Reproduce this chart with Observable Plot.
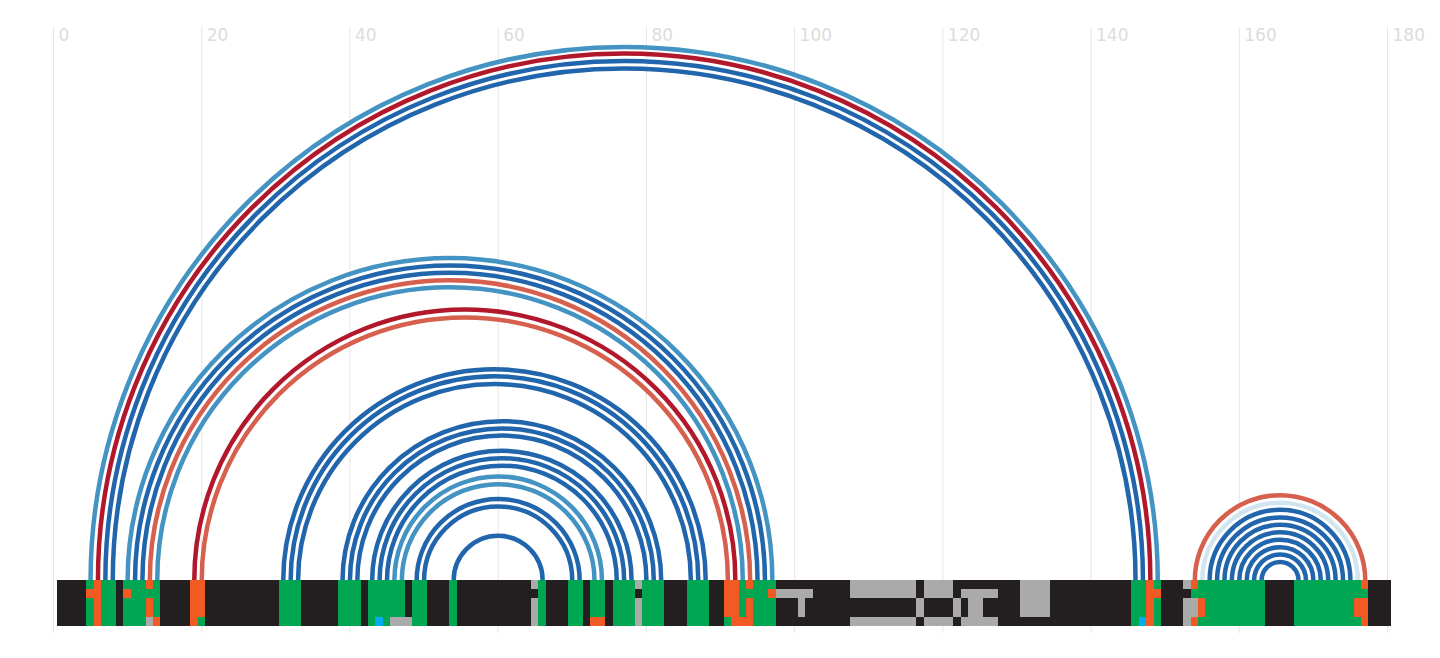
<!DOCTYPE html>
<html>
<head>
<meta charset="utf-8">
<script src="https://cdn.jsdelivr.net/npm/d3@7"></script>
<script src="https://cdn.jsdelivr.net/npm/@observablehq/plot@0.6"></script>
<style>
  html, body { margin: 0; padding: 0; background: #fff; }
  #chart svg { display: block; }
</style>
</head>
<body>
<div id="chart"></div>
<script>
// ---- data ----
const positionTicks = [0, 20, 40, 60, 80, 100, 120, 140, 160, 180];
const sequenceLength = 180;

// base pairs: left position, right position, colour class
const pairLeft  = [5, 6, 7, 8, 10, 11, 12, 13, 14, 19, 20, 31, 32, 33, 39, 40, 41, 43, 44, 45, 46, 47, 49, 50, 54,
                   154, 155, 156, 157, 158, 159, 160, 161, 162, 163];
const pairRight = [149, 148, 147, 146, 97, 96, 95, 94, 93, 92, 91, 88, 87, 86, 82, 81, 80, 78, 77, 76, 74, 73, 71, 70, 66,
                   177, 176, 175, 174, 173, 172, 171, 170, 169, 168];
const pairClass = ["lb", "r", "b", "b", "lb", "b", "b", "s", "lb", "r", "s", "b", "b", "b", "b", "b", "b", "b", "b", "b", "lb", "lb", "b", "b", "b",
                   "s", "p", "b", "b", "b", "b", "b", "b", "b", "b"];

// alignment strip: [from, to, states of the 5 sequences top→bottom]
// K unpaired, G valid pair, O compensatory, S gap, C non-canonical
const stripRuns = [
  [1, 4, "KKKKK"], [5, 5, "GOGGG"], [6, 6, "OOOOO"], [7, 8, "GGGGG"], [9, 9, "KKKKK"],
  [10, 10, "GOGGG"], [11, 12, "GGGGG"], [13, 13, "OGOOS"], [14, 14, "GGGGO"], [15, 18, "KKKKK"],
  [19, 19, "OOOOO"], [20, 20, "OOOOG"], [21, 30, "KKKKK"], [31, 33, "GGGGG"], [34, 38, "KKKKK"],
  [39, 41, "GGGGG"], [42, 42, "KKKKK"], [43, 43, "GGGGG"], [44, 44, "GGGGC"], [45, 45, "GGGGG"],
  [46, 47, "GGGGS"], [48, 48, "KKKKS"], [49, 50, "GGGGG"], [51, 53, "KKKKK"], [54, 54, "GGGGG"],
  [55, 64, "KKKKK"], [65, 65, "SKSSS"], [66, 66, "GGGGG"], [67, 69, "KKKKK"], [70, 71, "GGGGG"],
  [72, 72, "KKKKK"], [73, 74, "GGGGO"], [75, 75, "KKKKK"], [76, 78, "GGGGG"], [79, 79, "SKSSS"],
  [80, 82, "GGGGG"], [83, 85, "KKKKK"], [86, 88, "GGGGG"], [89, 90, "KKKKK"], [91, 91, "OOOOG"],
  [92, 92, "OOOOO"], [93, 93, "GGGGO"], [94, 94, "OGOOO"], [95, 96, "GGGGG"], [97, 97, "GOGGG"],
  [98, 100, "KSKKK"], [101, 101, "KSSSK"], [102, 102, "KSKKK"], [103, 107, "KKKKK"], [108, 116, "SSKKS"],
  [117, 117, "KKSSK"], [118, 121, "SSKKS"], [122, 122, "KKSSK"], [123, 123, "KSKKS"], [124, 125, "KSSSS"],
  [126, 127, "KSKKS"], [128, 130, "KKKKK"], [131, 134, "SSSSK"], [135, 145, "KKKKK"], [146, 146, "GGGGG"],
  [147, 147, "GGGGC"], [148, 148, "OOOOO"], [149, 149, "GOGGG"], [150, 152, "KKKKK"], [153, 153, "SKSSS"],
  [154, 154, "OGSSO"], [155, 155, "GGOOG"], [156, 163, "GGGGG"], [164, 167, "KKKKK"], [168, 175, "GGGGG"],
  [176, 176, "GGOOG"], [177, 177, "OGOOO"], [178, 180, "KKKKK"]
];

// ---- styles ----
const arcColors = { lb: "#4393c3", b: "#2166ac", r: "#b2182b", s: "#d6604d", p: "#d1e5f0" };
const stateColors = { K: "#231f20", G: "#00a651", O: "#f15a22", S: "#aaaaaa", C: "#00aeef" };
const rowPx = 9.2;

// ---- derived tables ----
const pairs = pairLeft.map((l, k) => ({ left: l, right: pairRight[k], cls: pairClass[k] }));

const rows = 5;
const perColumn = [];
for (const [a, b, s] of stripRuns) for (let i = a; i <= b; i++) perColumn[i] = s;
const segments = [];
for (let r = 0; r < rows; r++) {
  let start = 1, cur = perColumn[1][r];
  for (let i = 2; i <= sequenceLength + 1; i++) {
    const c = i <= sequenceLength ? perColumn[i][r] : null;
    if (c !== cur) {
      segments.push({ from: start, to: i - 1, row: r, state: cur });
      start = i; cur = c;
    }
  }
}

// semicircle curve between two baseline points
function arcCurve(context) {
  let n = 0, x0 = 0, y0 = 0;
  return {
    areaStart() {}, areaEnd() {},
    lineStart() { n = 0; },
    lineEnd() {},
    point(x, y) {
      if (n++ === 0) { x0 = x; y0 = y; context.moveTo(x, y); }
      else {
        const r = Math.abs(x - x0) / 2;
        context.arc((x + x0) / 2, y0, r, Math.PI, 0, false);
      }
    }
  };
}

const chart = Plot.plot({
  width: 1440,
  height: 658,
  marginLeft: 53,
  marginRight: 53,
  marginTop: 27,
  marginBottom: 25,
  x: { domain: [0, 180] },
  y: { domain: [-53, 553], axis: null },
  style: { fontFamily: "DejaVu Sans", background: "#ffffff" },
  marks: [
    Plot.gridX(positionTicks, { stroke: "#e6e6e6", strokeOpacity: 1 }),
    Plot.axisX(positionTicks, {
      anchor: "top", tickSize: 0, tickPadding: -1, lineAnchor: "top",
      textAnchor: "start", dx: 5, fontSize: 17, color: "#dcdcdc", label: null
    }),
    Plot.link(pairs, {
      x1: "left", x2: "right", y1: 0, y2: 0,
      curve: arcCurve,
      stroke: d => arcColors[d.cls],
      strokeWidth: 4.5,
      fill: "none"
    }),
    Plot.rect(segments, {
      x1: d => d.from - 0.5,
      x2: d => d.to + 0.5,
      y1: d => -(d.row + 1) * rowPx,
      y2: d => -d.row * rowPx,
      fill: d => stateColors[d.state],
      shapeRendering: "crispEdges"
    })
  ]
});
document.getElementById("chart").appendChild(chart);
</script>
</body>
</html>
